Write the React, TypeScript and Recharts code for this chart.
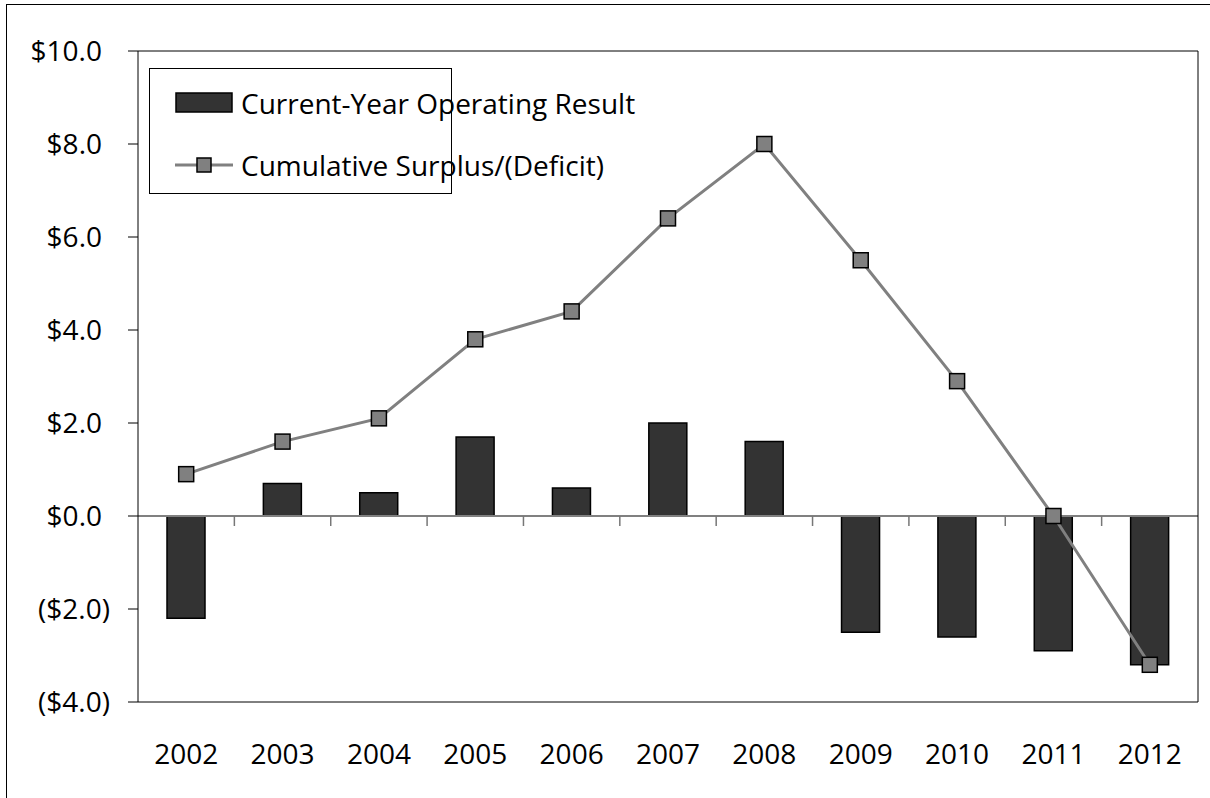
import React from 'react';
import { ComposedChart, Bar, Line, XAxis, YAxis, CartesianGrid, ReferenceLine } from 'recharts';

const years = ['2002', '2003', '2004', '2005', '2006', '2007', '2008', '2009', '2010', '2011', '2012'];
const operatingResult = [-2.2, 0.7, 0.5, 1.7, 0.6, 2.0, 1.6, -2.5, -2.6, -2.9, -3.2];
const cumulative = [0.9, 1.6, 2.1, 3.8, 4.4, 6.4, 8.0, 5.5, 2.9, 0.0, -3.2];
const yTicks = [-4, -2, 0, 2, 4, 6, 8, 10];

const data = years.map((year, i) => ({
  year,
  result: operatingResult[i],
  cumulative: cumulative[i],
}));

const FONT = '"Open Sans", sans-serif';
const FONT_SIZE = 28;
const PLOT_TOP = 51;
const PLOT_BOTTOM = 702;
const Y_MIN = -4;
const Y_MAX = 10;
const zeroY = PLOT_TOP + ((PLOT_BOTTOM - PLOT_TOP) * Y_MAX) / (Y_MAX - Y_MIN);

const money = (v: number) => (v < 0 ? `($${Math.abs(v).toFixed(1)})` : `$${v.toFixed(1)}`);

const YTick = (props: any) => {
  const { x, y, payload } = props;
  const v = payload.value as number;
  // positive values leave room for the closing paren, like Excel's _) format
  const endX = v < 0 ? x : x - 8;
  return (
    <text x={endX} y={y} dy="0.36em" textAnchor="end" fontFamily={FONT} fontSize={FONT_SIZE} fill="#000">
      {money(v)}
    </text>
  );
};

// year label at the bottom, plus the category-boundary tick hanging off the zero line
const XTick = (props: any) => {
  const { x, y, payload, index } = props;
  const half = payload.offset ?? 48;
  return (
    <g>
      {index > 0 && (
        <line x1={x - half} x2={x - half} y1={zeroY} y2={zeroY + 10} stroke="#777" strokeWidth={1.5} />
      )}
      <text x={x} y={y} dy="0.36em" textAnchor="middle" fontFamily={FONT} fontSize={FONT_SIZE} fill="#000">
        {payload.value}
      </text>
    </g>
  );
};

const SquareDot = (props: any) => {
  const { cx, cy, index } = props;
  if (cx == null || cy == null) return null;
  return <rect key={`dot-${index}`} x={cx - 7.5} y={cy - 7.5} width={15} height={15} fill="#808080" stroke="#000" strokeWidth={1.5} />;
};

const LegendBox = () => (
  <div
    style={{
      position: 'absolute',
      left: 149,
      top: 68,
      width: 303,
      height: 126,
      border: '1px solid #000',
      background: '#fff',
      fontFamily: FONT,
      fontSize: FONT_SIZE,
      color: '#000',
      boxSizing: 'border-box',
    }}
  >
    <svg width={100} height={124} style={{ position: 'absolute', left: 0, top: 0 }}>
      <rect x={26} y={24} width={56} height={19} fill="#333333" stroke="#000" strokeWidth={1.5} />
      <line x1={25} x2={83} y1={96} y2={96} stroke="#808080" strokeWidth={3} />
      <rect x={47} y={89} width={14} height={14} fill="#808080" stroke="#000" strokeWidth={1.5} />
    </svg>
    <div style={{ position: 'absolute', left: 91, top: 34, transform: 'translateY(-50%)', whiteSpace: 'nowrap' }}>
      Current-Year Operating Result
    </div>
    <div style={{ position: 'absolute', left: 91, top: 96, transform: 'translateY(-50%)', whiteSpace: 'nowrap' }}>
      Cumulative Surplus/(Deficit)
    </div>
  </div>
);

export default function App() {
  return (
    <div style={{ position: 'fixed', left: 0, top: 0, width: 1210, height: 798, background: '#fff', overflow: 'hidden' }}>
      <div style={{ position: 'absolute', left: 6, top: 4, width: 1400, height: 1000, border: '1.5px solid #000' }} />
      <ComposedChart
        width={1210}
        height={798}
        data={data}
        margin={{ top: PLOT_TOP, right: 0, bottom: 0, left: 0 }}
        barSize={38}
        style={{ position: 'absolute', left: 0, top: 0 }}
      >
        <CartesianGrid vertical={false} stroke="#000" strokeWidth={1} />
        <XAxis
          dataKey="year"
          axisLine={false}
          tickLine={false}
          tick={<XTick />}
          height={798 - PLOT_BOTTOM}
          tickSize={0}
          tickMargin={52}
          interval={0}
        />
        <YAxis
          yAxisId="left"
          domain={[Y_MIN, Y_MAX]}
          ticks={yTicks}
          width={138}
          axisLine={{ stroke: '#000', strokeWidth: 1 }}
          tickLine={{ stroke: '#000', strokeWidth: 1 }}
          tickSize={10}
          tickMargin={18}
          tick={<YTick />}
          interval={0}
        />
        <YAxis
          yAxisId="right"
          orientation="right"
          domain={[Y_MIN, Y_MAX]}
          width={12}
          tick={false}
          tickLine={false}
          axisLine={{ stroke: '#000', strokeWidth: 1 }}
        />
        <ReferenceLine yAxisId="left" y={0} stroke="#808080" strokeWidth={2} />
        <Bar yAxisId="left" dataKey="result" fill="#333333" stroke="#000" strokeWidth={1.5} isAnimationActive={false} />
        <Line
          yAxisId="left"
          dataKey="cumulative"
          stroke="#808080"
          strokeWidth={3}
          dot={<SquareDot />}
          activeDot={false}
          isAnimationActive={false}
        />
      </ComposedChart>
      <LegendBox />
    </div>
  );
}
